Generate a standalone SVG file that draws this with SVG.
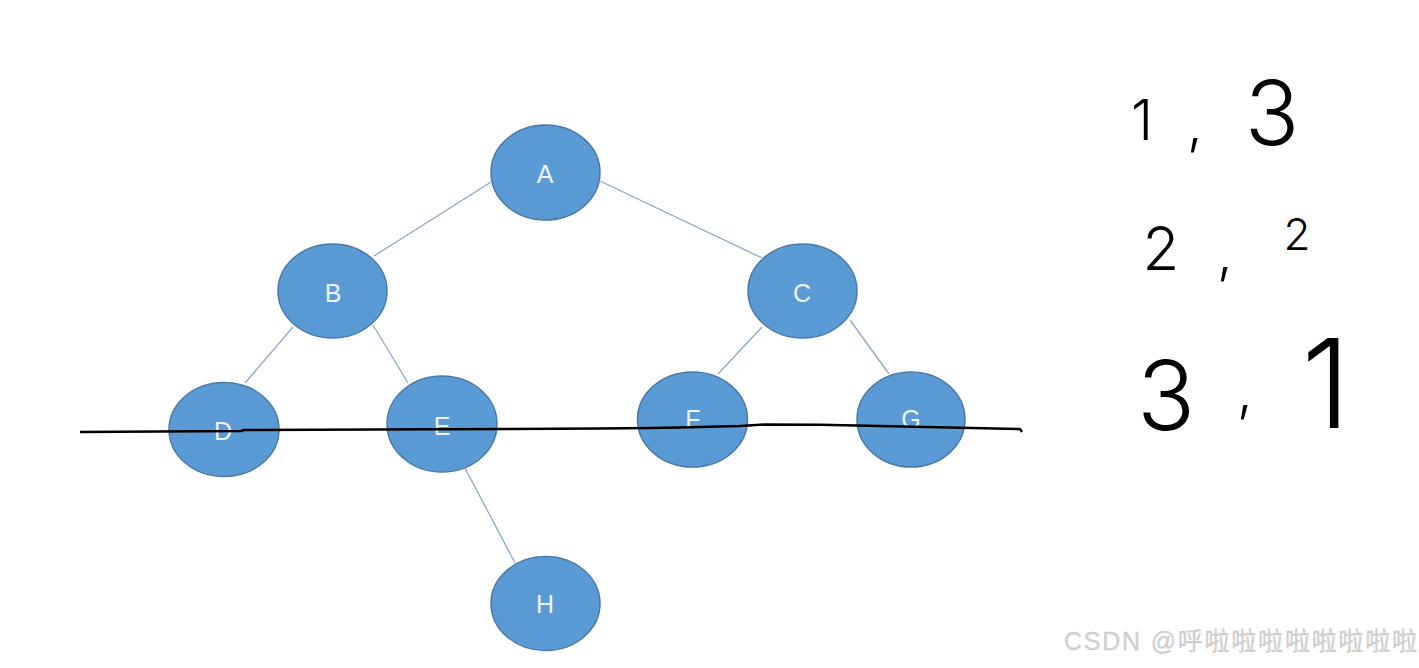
<svg xmlns="http://www.w3.org/2000/svg" width="1419" height="668" viewBox="0 0 1419 668">
<style>
.node ellipse{fill:#5b9bd5;stroke:#4a7aa8;stroke-width:1.5}
.node text{fill:#eef4fb;font-family:"Liberation Sans","Open Sans",sans-serif;font-size:25px;text-anchor:middle}
.edge{stroke:#8aa8cc;stroke-width:1.3;fill:none}
.hw{fill:#000;font-family:Inter,"DejaVu Sans",sans-serif;font-weight:300;text-anchor:middle}
</style>
<rect width="1419" height="668" fill="#ffffff"/>
<g id="connectors">
<line class="edge" x1="491" y1="182" x2="374" y2="256"/>
<line class="edge" x1="600" y1="181" x2="762" y2="258"/>
<line class="edge" x1="293" y1="327" x2="245" y2="383"/>
<line class="edge" x1="373" y1="325" x2="408" y2="383"/>
<line class="edge" x1="762" y1="327" x2="718" y2="374"/>
<line class="edge" x1="850" y1="320" x2="889" y2="374"/>
<line class="edge" x1="465" y1="468" x2="515" y2="563"/>
</g>
<g id="A" class="node"><ellipse cx="545.5" cy="172.5" rx="54.5" ry="47.5"/><text x="545" y="183">A</text></g>
<g id="B" class="node"><ellipse cx="332.5" cy="291" rx="54.5" ry="47"/><text x="333" y="302">B</text></g>
<g id="C" class="node"><ellipse cx="802.5" cy="291" rx="54.5" ry="47"/><text x="802" y="302">C</text></g>
<g id="D" class="node"><ellipse cx="224" cy="429.5" rx="55" ry="47"/><text x="223" y="440">D</text></g>
<g id="E" class="node"><ellipse cx="442" cy="424" rx="55" ry="48"/><text x="442" y="435">E</text></g>
<g id="F" class="node"><ellipse cx="692.5" cy="419.5" rx="55" ry="47.5"/><text x="693" y="428">F</text></g>
<g id="G" class="node"><ellipse cx="911" cy="419.5" rx="54" ry="47.5"/><text x="911" y="428">G</text></g>
<g id="H" class="node"><ellipse cx="545.5" cy="603.5" rx="54.5" ry="47"/><text x="545" y="613">H</text></g>
<path d="M80,432 L160,431.5 L242,431 L243,430 L375,429.5 L600,428.5 L650,428 L680,427.5 L740,426 L765,424.5 L820,424.8 L880,426 L1020,429 L1022,432" fill="none" stroke="#000" stroke-width="2.5" stroke-linejoin="round"/>
<g id="notes">
<text class="hw" x="1142" y="140" font-size="56">1</text>
<text class="hw" x="1195" y="143" font-size="56">,</text>
<text class="hw" x="1272" y="145" font-size="90">3</text>
<text class="hw" x="1161" y="270" font-size="60">2</text>
<text class="hw" x="1225" y="272" font-size="56">,</text>
<text class="hw" x="1297" y="250" font-size="44">2</text>
<text class="hw" x="1166" y="430" font-size="96">3</text>
<text class="hw" x="1245" y="410" font-size="56">,</text>
<text class="hw" x="1326" y="428" font-size="124">1</text>
</g>
<text x="1064" y="650" font-family="Liberation Sans,'Noto Sans CJK SC',sans-serif" font-size="25" fill="#d2d2d2" stroke="#c4c4c4" stroke-width="0.3" textLength="353" lengthAdjust="spacing">CSDN @呼啦啦啦啦啦啦啦啦</text>
</svg>
